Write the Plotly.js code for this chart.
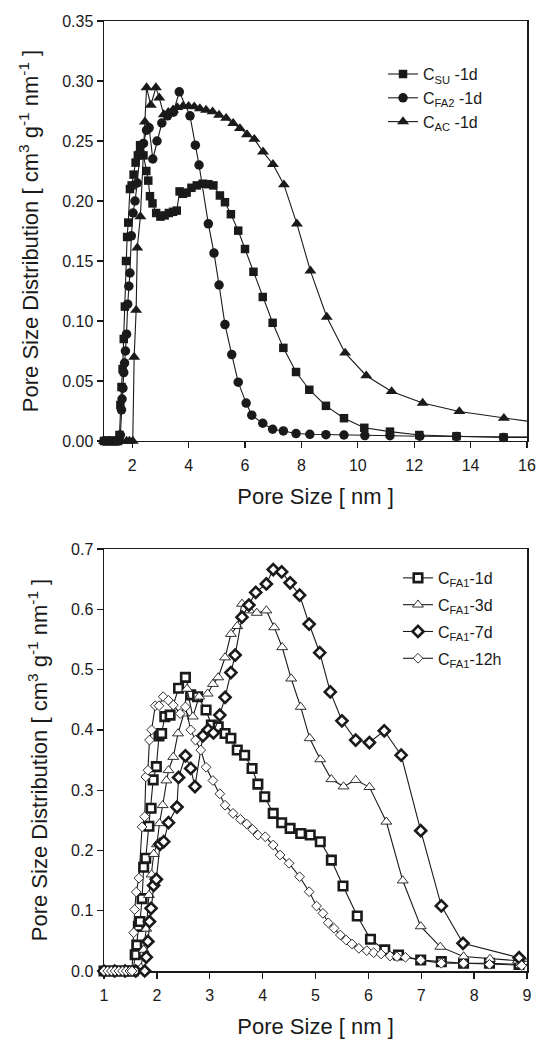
<!DOCTYPE html>
<html>
<head>
<meta charset="utf-8">
<script src="https://cdn.plot.ly/plotly-3.0.1.min.js"></script>
<style>
  html, body { margin: 0; padding: 0; background: #fff; }
  #chart { width: 537px; height: 1041px; }
</style>
</head>
<body>
<div id="chart"></div>
<script>
// ---------- Top panel: C_SU-1d, C_FA2-1d, C_AC-1d ----------
const topNames = ['C<sub>SU</sub> -1d', 'C<sub>FA2</sub> -1d', 'C<sub>AC</sub> -1d'];

const suX = [1.0,1.1,1.2,1.3,1.4,1.5,1.55,1.58,1.62,1.66,1.7,1.74,1.78,1.82,1.86,1.92,1.98,2.05,2.12,2.2,2.28,2.4,2.5,2.57,2.63,2.72,2.85,3.0,3.15,3.3,3.45,3.58,3.68,3.8,3.93,4.1,4.29,4.5,4.7,4.88,5.11,5.29,5.5,5.76,6.0,6.3,6.63,6.98,7.36,7.81,8.28,8.87,9.51,10.23,11.14,12.18,13.5,15.17,16.9];
const suY = [0,0,0,0,0,0,0.005,0.03,0.045,0.06,0.085,0.112,0.15,0.17,0.182,0.21,0.213,0.222,0.232,0.238,0.2465,0.238,0.225,0.217,0.204,0.198,0.19,0.187,0.188,0.19,0.191,0.192,0.208,0.206,0.207,0.211,0.213,0.2144,0.214,0.213,0.2046,0.199,0.189,0.1753,0.16,0.141,0.12,0.0985,0.0776,0.0575,0.0427,0.0293,0.019,0.011,0.0078,0.005,0.004,0.003,0.003];

const fa2X = [1.0,1.1,1.2,1.3,1.4,1.5,1.58,1.62,1.64,1.67,1.7,1.73,1.76,1.8,1.84,1.88,1.92,1.97,2.03,2.1,2.18,2.28,2.4,2.51,2.6,2.73,2.88,3.05,3.25,3.46,3.67,4.05,4.24,4.37,4.7,4.9,5.08,5.29,5.53,5.76,6.04,6.24,6.63,6.98,7.36,7.81,8.3,8.87,9.51,10.25,11.14,12.2,13.5,15.17,16.9];
const fa2Y = [0,0,0,0,0,0,0.005,0.026,0.035,0.044,0.057,0.065,0.075,0.089,0.114,0.129,0.14,0.171,0.19,0.2,0.215,0.241,0.248,0.259,0.261,0.235,0.25,0.265,0.271,0.274,0.291,0.271,0.2465,0.23,0.181,0.1566,0.13,0.097,0.072,0.049,0.0316,0.0215,0.0148,0.0098,0.0084,0.0062,0.0056,0.0053,0.005,0.0045,0.0044,0.004,0.0038,0.003,0.003];

const acX = [1.0,1.2,1.4,1.6,1.8,1.9,2.02,2.07,2.14,2.18,2.29,2.45,2.51,2.66,2.84,2.96,3.12,3.28,3.45,3.6,3.8,4.0,4.2,4.4,4.62,4.85,5.08,5.33,5.58,5.82,6.07,6.33,6.64,6.99,7.38,7.84,8.32,8.9,9.55,10.3,11.2,12.3,13.6,15.18,16.9];
const acY = [0,0,0,0,0,0,0,0.07,0.109,0.161,0.187,0.266,0.2945,0.28,0.2945,0.286,0.272,0.274,0.276,0.278,0.279,0.279,0.2786,0.277,0.2758,0.2744,0.2716,0.269,0.2647,0.2605,0.2554,0.2515,0.241,0.2306,0.2136,0.181,0.1418,0.1033,0.0734,0.0544,0.0413,0.0316,0.0246,0.019,0.0135];

// ---------- Bottom panel: C_FA1 at 1d, 3d, 7d, 12h ----------
const botNames = ['C<sub>FA1</sub>-1d', 'C<sub>FA1</sub>-3d', 'C<sub>FA1</sub>-7d', 'C<sub>FA1</sub>-12h'];

const d1X = [1.0,1.1,1.2,1.3,1.4,1.5,1.55,1.59,1.62,1.65,1.68,1.72,1.75,1.79,1.85,1.89,1.93,1.99,2.04,2.09,2.15,2.25,2.41,2.54,2.64,2.77,2.93,3.03,3.16,3.29,3.4,3.52,3.66,3.8,3.91,4.04,4.2,4.36,4.52,4.72,4.9,5.09,5.3,5.52,5.79,6.04,6.31,6.57,6.99,7.38,7.8,8.29,8.85,9.5];
const d1Y = [0,0,0,0,0,0,0,0.027,0.043,0.074,0.082,0.12,0.172,0.187,0.24,0.27,0.317,0.339,0.39,0.394,0.422,0.4245,0.469,0.487,0.458,0.455,0.433,0.408,0.405,0.394,0.386,0.3665,0.358,0.336,0.31,0.289,0.2615,0.246,0.2366,0.228,0.2255,0.2145,0.184,0.141,0.0912,0.0526,0.035,0.0265,0.0182,0.0155,0.0128,0.0128,0.011,0.009];

const d3X = [1.0,1.2,1.4,1.6,1.7,1.75,1.8,1.85,1.9,1.94,2.0,2.05,2.11,2.18,2.22,2.31,2.4,2.51,2.57,2.68,2.8,2.96,3.06,3.16,3.29,3.4,3.52,3.61,3.75,3.89,4.07,4.22,4.37,4.54,4.72,4.89,5.09,5.3,5.53,5.76,6.02,6.34,6.65,6.99,7.36,7.8,8.3,8.83,9.5];
const d3Y = [0,0,0,0,0.005,0.035,0.07,0.126,0.16,0.194,0.21,0.245,0.275,0.316,0.333,0.355,0.394,0.427,0.468,0.422,0.455,0.46,0.476,0.487,0.52,0.559,0.572,0.609,0.598,0.594,0.598,0.57,0.537,0.485,0.438,0.386,0.351,0.318,0.306,0.3167,0.305,0.2476,0.15,0.074,0.04,0.024,0.02,0.017,0.014];

const d7X = [1.0,1.2,1.4,1.6,1.77,1.8,1.83,1.86,1.89,1.94,1.99,2.06,2.13,2.22,2.38,2.41,2.54,2.64,2.72,2.87,2.97,3.07,3.19,3.29,3.4,3.48,3.61,3.74,3.87,4.07,4.2,4.36,4.52,4.7,4.88,5.08,5.28,5.5,5.76,6.02,6.3,6.62,6.99,7.38,7.79,8.85,9.5];
const d7Y = [0,0,0,0,0,0.023,0.049,0.082,0.104,0.142,0.152,0.21,0.2145,0.246,0.272,0.321,0.357,0.336,0.306,0.39,0.40,0.395,0.4245,0.454,0.495,0.524,0.587,0.607,0.628,0.642,0.666,0.662,0.644,0.6235,0.5755,0.528,0.463,0.415,0.383,0.379,0.3985,0.358,0.2327,0.108,0.046,0.022,0.012];

const h12X = [1.0,1.07,1.14,1.21,1.28,1.35,1.42,1.49,1.53,1.56,1.58,1.61,1.66,1.72,1.77,1.79,1.83,1.86,1.9,1.97,2.04,2.12,2.22,2.31,2.44,2.54,2.64,2.73,2.83,2.93,3.06,3.19,3.29,3.44,3.58,3.7,3.81,3.91,4.05,4.2,4.33,4.5,4.7,4.88,5.02,5.14,5.24,5.35,5.47,5.58,5.69,5.82,5.97,6.1,6.24,6.41,6.54,6.7,6.99,7.38,7.8,8.29,8.9,9.5];
const h12Y = [0,0,0,0,0,0,0,0,0,0.0635,0.102,0.131,0.154,0.239,0.256,0.322,0.333,0.383,0.40,0.44,0.44,0.455,0.449,0.441,0.427,0.438,0.40,0.383,0.3665,0.338,0.316,0.294,0.275,0.2615,0.2516,0.2438,0.235,0.2255,0.2227,0.209,0.1924,0.1786,0.1564,0.1315,0.1078,0.0957,0.08,0.0708,0.0597,0.0514,0.0448,0.0376,0.0337,0.0304,0.0282,0.0249,0.0237,0.0227,0.018,0.0128,0.0128,0.011,0.009,0.008];

// ---------- Styling ----------
const INK = '#1a1a1a';
const FONT = 'Liberation Sans, Arial, Helvetica, sans-serif';

function topTrace(x, y, name, symbol, size) {
  return {
    x: x, y: y, name: name, type: 'scatter', mode: 'lines+markers',
    xaxis: 'x', yaxis: 'y', legend: 'legend', cliponaxis: false,
    line: { color: INK, width: 1.1 },
    marker: { symbol: symbol, size: size, color: INK, line: { width: 0 } }
  };
}
function botTrace(x, y, name, symbol, size, lw) {
  return {
    x: x, y: y, name: name, type: 'scatter', mode: 'lines+markers',
    xaxis: 'x2', yaxis: 'y2', legend: 'legend2', legendgroup: name, cliponaxis: false,
    line: { color: INK, width: 1.1 },
    marker: { symbol: symbol, size: size, color: '#ffffff', line: { color: INK, width: lw } }
  };
}

const data = [
  topTrace(suX, suY, topNames[0], 'square', 8.5),
  topTrace(fa2X, fa2Y, topNames[1], 'circle', 9.5),
  topTrace(acX, acY, topNames[2], 'triangle-up', 10.5),
  botTrace(d1X, d1Y, botNames[0], 'square', 8.5, 2.6),
  botTrace(d3X, d3Y, botNames[1], 'triangle-up', 9.5, 0.9),
  botTrace(d7X, d7Y, botNames[2], 'diamond', 8.5, 2.6),
  botTrace(h12X, h12Y, botNames[3], 'diamond', 7.5, 0.9)
];

const yTitle = 'Pore Size Distribution [ cm<sup>3</sup> g<sup>-1</sup> nm<sup>-1</sup> ]';
const xTitle = 'Pore Size [ nm ]';

function axisBase() {
  return {
    showline: true, linecolor: INK, linewidth: 1.5, mirror: true,
    ticks: 'outside', ticklen: 6, tickwidth: 1.3, tickcolor: INK,
    showgrid: false, zeroline: false, layer: 'below traces',
    tickfont: { family: FONT, size: 16, color: INK },
    fixedrange: true
  };
}

const layout = {
  width: 537, height: 1041,
  margin: { l: 104, r: 10, t: 21, b: 70 },
  paper_bgcolor: '#ffffff', plot_bgcolor: '#ffffff',
  font: { family: FONT, color: INK },
  showlegend: true,
  xaxis: Object.assign(axisBase(), {
    domain: [0, 1], range: [1, 16], tick0: 0, dtick: 2, anchor: 'y', ticklabelstandoff: 3,
    title: { text: xTitle, font: { family: FONT, size: 22, color: INK }, standoff: 16 }
  }),
  yaxis: Object.assign(axisBase(), {
    domain: [0.5579, 1], range: [0, 0.35], tick0: 0, dtick: 0.05, tickformat: '.2f', anchor: 'x',
    title: { text: yTitle, font: { family: FONT, size: 22, color: INK }, standoff: 17 }
  }),
  xaxis2: Object.assign(axisBase(), {
    domain: [0, 1], range: [1, 9], tick0: 0, dtick: 1, anchor: 'y2', ticklabelstandoff: 3,
    title: { text: xTitle, font: { family: FONT, size: 22, color: INK }, standoff: 16 }
  }),
  yaxis2: Object.assign(axisBase(), {
    domain: [0, 0.4442], range: [0, 0.7], tick0: 0, dtick: 0.1, tickformat: '.1f', anchor: 'x2',
    title: { text: yTitle, font: { family: FONT, size: 22, color: INK }, standoff: 17 }
  }),
  legend: {
    x: 0.6596, xanchor: 'left', y: 0.962, yanchor: 'top',
    bgcolor: 'rgba(0,0,0,0)', borderwidth: 0,
    font: { family: FONT, size: 16, color: INK }
  },
  legend2: {
    x: 0.695, xanchor: 'left', y: 0.4316, yanchor: 'top',
    bgcolor: 'rgba(0,0,0,0)', borderwidth: 0, traceorder: 'grouped', tracegroupgap: 3,
    font: { family: FONT, size: 16, color: INK }
  }
};

Plotly.newPlot('chart', data, layout, { staticPlot: true, displayModeBar: false });
</script>
</body>
</html>
